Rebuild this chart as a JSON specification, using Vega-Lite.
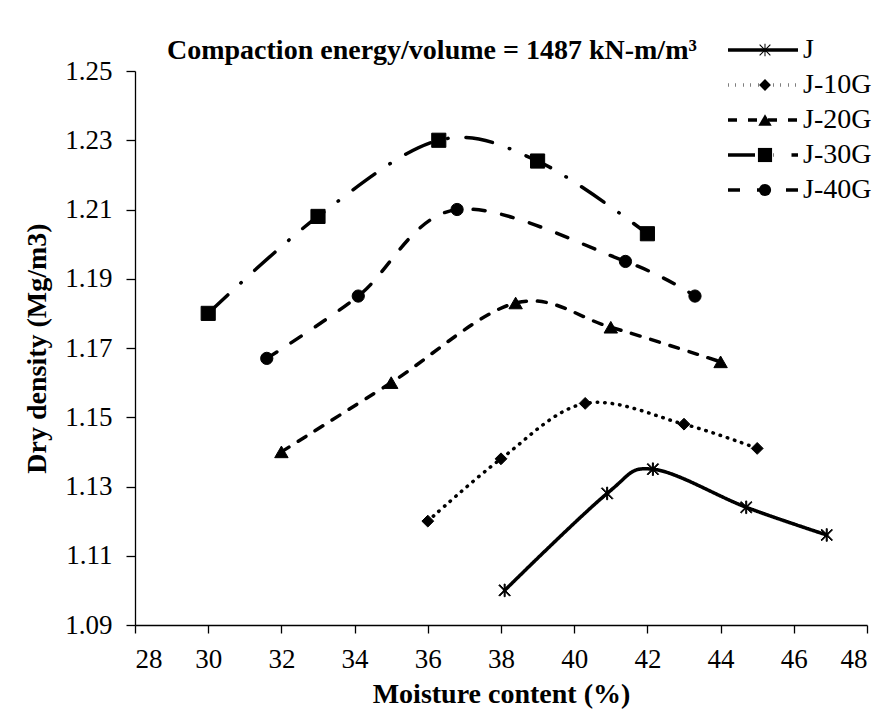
{
  "$schema": "https://vega.github.io/schema/vega-lite/v6.json",
  "width": 732,
  "height": 554,
  "autosize": {"type": "none"},
  "padding": {"left": 135, "top": 71, "right": 26, "bottom": 91},
  "background": "white",
  "config": {
    "font": "Liberation Serif",
    "view": {"stroke": null},
    "axis": {
      "domainColor": "black", "tickColor": "black", "labelColor": "black", "titleColor": "black",
      "grid": false, "labelFont": "Liberation Serif", "titleFont": "Liberation Serif",
      "labelFontSize": 27, "titleFontSize": 28, "titleFontWeight": "bold",
      "domainWidth": 1.3, "tickWidth": 1.3
    }
  },
  "title": {
    "text": "Compaction energy/volume = 1487 kN-m/m³",
    "anchor": "start", "frame": "group", "dx": 32, "dy": 37, "fontSize": 28, "font": "Liberation Serif",
    "fontWeight": "bold", "color": "black", "offset": 8
  },
  "data": {
    "values": [
      {"series": "J", "moisture": 38.1, "density": 1.100},
      {"series": "J", "moisture": 40.9, "density": 1.128},
      {"series": "J", "moisture": 42.15, "density": 1.135},
      {"series": "J", "moisture": 44.7, "density": 1.124},
      {"series": "J", "moisture": 46.9, "density": 1.116},
      {"series": "J-10G", "moisture": 36.0, "density": 1.120},
      {"series": "J-10G", "moisture": 38.0, "density": 1.138},
      {"series": "J-10G", "moisture": 40.3, "density": 1.154},
      {"series": "J-10G", "moisture": 43.0, "density": 1.148},
      {"series": "J-10G", "moisture": 45.0, "density": 1.141},
      {"series": "J-20G", "moisture": 32.0, "density": 1.140},
      {"series": "J-20G", "moisture": 35.0, "density": 1.160},
      {"series": "J-20G", "moisture": 38.4, "density": 1.183},
      {"series": "J-20G", "moisture": 41.0, "density": 1.176},
      {"series": "J-20G", "moisture": 44.0, "density": 1.166},
      {"series": "J-30G", "moisture": 30.0, "density": 1.180},
      {"series": "J-30G", "moisture": 33.0, "density": 1.208},
      {"series": "J-30G", "moisture": 36.3, "density": 1.230},
      {"series": "J-30G", "moisture": 39.0, "density": 1.224},
      {"series": "J-30G", "moisture": 42.0, "density": 1.203},
      {"series": "J-40G", "moisture": 31.6, "density": 1.167},
      {"series": "J-40G", "moisture": 34.1, "density": 1.185},
      {"series": "J-40G", "moisture": 36.8, "density": 1.210},
      {"series": "J-40G", "moisture": 41.4, "density": 1.195},
      {"series": "J-40G", "moisture": 43.3, "density": 1.185}
    ]
  },
  "encoding": {
    "x": {
      "field": "moisture", "type": "quantitative",
      "scale": {"domain": [28, 48], "nice": false, "zero": false},
      "axis": {"values": [28, 30, 32, 34, 36, 38, 40, 42, 44, 46, 48], "title": "Moisture content (%)", "tickSize": 8, "labelPadding": 13, "titlePadding": 8}
    },
    "y": {
      "field": "density", "type": "quantitative",
      "scale": {"domain": [1.09, 1.25], "nice": false, "zero": false},
      "axis": {"values": [1.09, 1.11, 1.13, 1.15, 1.17, 1.19, 1.21, 1.23, 1.25], "format": ".2f", "title": "Dry density (Mg/m3)", "tickSize": 9, "labelPadding": 14, "titlePadding": 13}
    }
  },
  "layer": [
    {
      "mark": {"type": "line", "interpolate": "cardinal", "strokeWidth": 3.5, "strokeCap": "round", "color": "black"},
      "encoding": {
        "strokeDash": {
          "field": "series", "type": "nominal",
          "scale": {"domain": ["J", "J-10G", "J-20G", "J-30G", "J-40G"], "range": [[1, 0], [0.5, 7], [9, 11], [27, 18, 0.5, 18], [12, 17]]},
          "legend": {"orient": "none", "legendX": 614, "legendY": -35, "title": null, "symbolType": "M-7,0L7,0", "symbolSize": 100, "symbolStrokeWidth": 3.5, "symbolStrokeColor": "black", "labelFontSize": 28, "labelFont": "Liberation Serif", "labelColor": "black", "labelOffset": 26, "rowPadding": 7, "padding": 0}
        }
      }
    },
    {
      "mark": {"type": "point", "filled": true, "fill": "black", "stroke": "black", "strokeWidth": 1, "opacity": 1},
      "encoding": {
        "shape": {
          "field": "series", "type": "nominal",
          "scale": {"range": ["M-0.08,-1L0.08,-1L0.08,1L-0.08,1ZM-0.79,-0.91L0.91,0.79L0.79,0.91L-0.91,-0.79ZM-0.79,0.91L0.91,-0.79L0.79,-0.91L-0.91,0.79Z", "diamond", "triangle-up", "square", "circle"]},
          "legend": {"orient": "none", "legendX": 616, "legendY": -35, "title": null, "labelOpacity": 0, "labelFontSize": 28, "labelFont": "Liberation Serif", "rowPadding": 7, "symbolSize": 150, "symbolFillColor": "black", "symbolStrokeColor": "black", "symbolStrokeWidth": 1, "padding": 0}
        },
        "size": {
          "field": "series", "type": "nominal",
          "scale": {"type": "ordinal", "range": [160, 140, 180, 200, 150]},
          "legend": {"orient": "none", "legendX": 616, "legendY": -35, "title": null, "labelOpacity": 0, "labelFontSize": 28, "labelFont": "Liberation Serif", "rowPadding": 7, "symbolFillColor": "black", "symbolStrokeColor": "black", "symbolStrokeWidth": 1, "padding": 0}
        }
      }
    }
  ]
}
